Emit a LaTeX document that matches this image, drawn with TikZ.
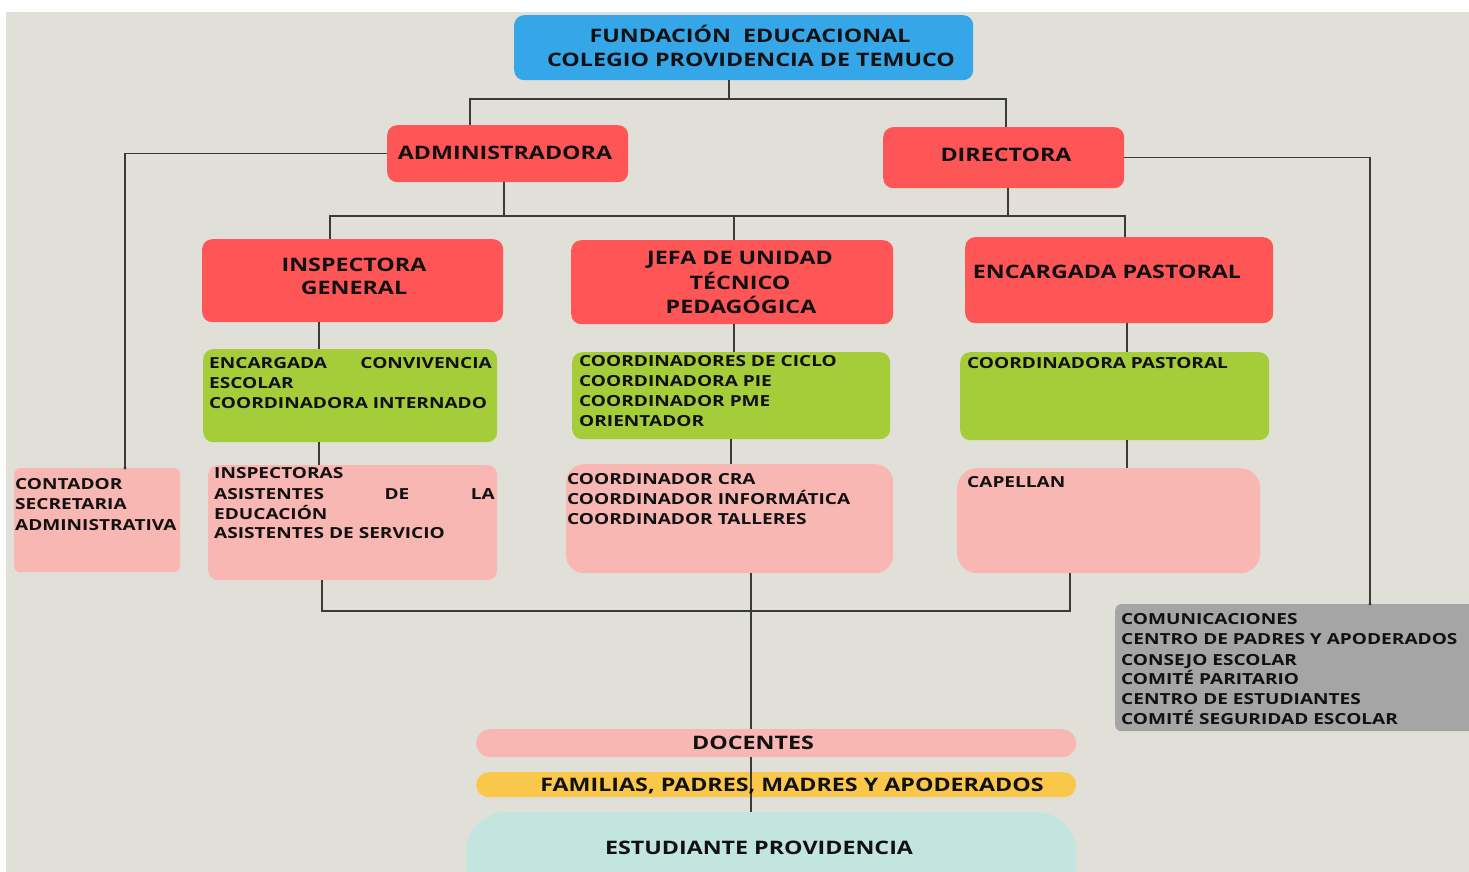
\documentclass[tikz,border=0pt]{standalone}
\usepackage{fontspec}
\setmainfont{Open Sans}[FakeStretch=1.25]
\definecolor{bgc}{HTML}{E1E0D8}
\definecolor{blu}{HTML}{35A7E9}
\definecolor{rd}{HTML}{FE5657}
\definecolor{grn}{HTML}{A5CC39}
\definecolor{pnk}{HTML}{F9B7B3}
\definecolor{gry}{HTML}{A5A5A5}
\definecolor{yel}{HTML}{F9C84A}
\definecolor{tea}{HTML}{C2E5DF}
\definecolor{lnc}{HTML}{3A3A3A}
\definecolor{txc}{HTML}{111111}
\tikzset{
  orgbox/.style={draw=none, inner sep=0pt, anchor=north west, rounded corners=#1},
  orgbox/.default=10pt,
  hd/.style={font=\bfseries\fontsize{18.6}{22}\selectfont, inner sep=0pt, text=txc, anchor=base},
  bd/.style={font=\bfseries\fontsize{15.25}{18}\selectfont, inner sep=0pt, text=txc, anchor=base west},
  conn/.style={draw=lnc, line width=1.1pt},
  enddot/.style={fill=lnc, draw=none}
}
\newcommand\tl[4]{\node[bd] (#1) at (#2,#3) {#4};}
\newcommand\hl[4]{\node[hd] (#1) at (#2,#3) {#4};}
\begin{document}
\begin{tikzpicture}[x=1pt,y=-1pt]
\useasboundingbox (0,0) rectangle (1469,872);
\fill[white] (0,0) rectangle (1469,872);
\fill[bgc] (6,12) rectangle (1469,872);
% boxes
\node[orgbox, fill=blu, minimum width=459pt, minimum height=65pt] (top) at (514,15) {};
\node[orgbox, fill=rd, minimum width=241pt, minimum height=57pt] (admin) at (387,125) {};
\node[orgbox, fill=rd, minimum width=241pt, minimum height=61pt] (dir) at (883,127) {};
\node[orgbox, fill=rd, minimum width=301pt, minimum height=83pt] (insp) at (202,239) {};
\node[orgbox, fill=rd, minimum width=322pt, minimum height=84pt] (jefa) at (571,240) {};
\node[orgbox, fill=rd, minimum width=308pt, minimum height=86pt] (past) at (965,237) {};
\node[orgbox, fill=grn, minimum width=294pt, minimum height=93pt] (g1) at (203,349) {};
\node[orgbox, fill=grn, minimum width=318pt, minimum height=87pt] (g2) at (572,352) {};
\node[orgbox, fill=grn, minimum width=309pt, minimum height=88pt] (g3) at (960,352) {};
\node[orgbox=6pt, fill=pnk, minimum width=166pt, minimum height=104pt] (cont) at (14,468) {};
\node[orgbox, fill=pnk, minimum width=289pt, minimum height=115pt] (p2) at (208,465) {};
\node[orgbox=18pt, fill=pnk, minimum width=327pt, minimum height=109pt] (p3) at (566,464) {};
\node[orgbox=20pt, fill=pnk, minimum width=303pt, minimum height=105pt] (cap) at (957,468) {};
\node[orgbox=6pt, fill=gry, minimum width=370pt, minimum height=127pt] (gray) at (1115,604) {};
\node[orgbox=14pt, fill=pnk, minimum width=600pt, minimum height=28pt] (doc) at (476,729) {};
\node[orgbox=12.5pt, fill=yel, minimum width=600pt, minimum height=25pt] (fam) at (476,772) {};
\node[orgbox=40pt, fill=tea, minimum width=610pt, minimum height=120pt] (est) at (466,812) {};
% helper coordinates
\coordinate (b1) at (729,99);
\coordinate (b2) at (504,216);
\coordinate (b3) at (751,611);
\coordinate (x470) at (470,0);
\coordinate (x125) at (125,0);
\coordinate (x330) at (330,0);
\coordinate (x504) at (504,0);
\coordinate (x733) at (734,0);
\coordinate (x1006) at (1006,0);
\coordinate (x1008) at (1008,0);
\coordinate (x1125) at (1125,0);
\coordinate (x319) at (319,0);
\coordinate (x731) at (731,0);
\coordinate (x1127) at (1127,0);
\coordinate (x1370) at (1370,0);
\coordinate (x322) at (322,0);
\coordinate (x1070) at (1070,0);
\coordinate (x751) at (751,0);
% connectors
\draw[conn] (top.south -| b1) -- (b1);
\draw[conn] (admin.north -| x470) |- (b1) -| (dir.north -| x1006);
\draw[conn] (admin.west) -| (cont.north -| x125);
\fill[enddot] (cont.north -| x125) circle (1.6pt);
\draw[conn] (admin.south -| x504) -- (x504 |- b2);
\draw[conn] (dir.south -| x1008) -- (x1008 |- b2);
\draw[conn] (insp.north -| x330) -- (x330 |- b2) -- (x1125 |- b2) -- (past.north -| x1125);
\draw[conn] (jefa.north -| x733) -- (x733 |- b2);
\draw[conn] (insp.south -| x319) -- (g1.north -| x319);
\draw[conn] (g1.south -| x319) -- (p2.north -| x319);
\draw[conn] (jefa.south -| x733) -- (g2.north -| x733);
\draw[conn] (g2.south -| x731) -- (p3.north -| x731);
\draw[conn] (past.south -| x1127) -- (g3.north -| x1127);
\draw[conn] (g3.south -| x1127) -- (cap.north -| x1127);
\draw[conn] (dir.east) -| (gray.north -| x1370);
\fill[enddot] (gray.north -| x1370) circle (1.6pt);
\draw[conn] (p2.south -| x322) |- (x1070 |- b3) -- (cap.south -| x1070);
\draw[conn] (p3.south -| x751) -- (doc.north -| x751);
\draw[conn] (doc.south -| x751) -- (est.north -| x751);
% headings
\hl{t1}{750}{42.4}{FUNDACIÓN~ EDUCACIONAL}
\hl{t2}{751}{66.4}{COLEGIO PROVIDENCIA DE TEMUCO}
\hl{adminT}{505}{159.4}{ADMINISTRADORA}
\hl{dirT}{1006}{161.4}{DIRECTORA}
\hl{inspT1}{354}{271.4}{INSPECTORA}
\hl{inspT2}{354}{294.4}{GENERAL}
\hl{jefaT1}{740}{264.4}{JEFA DE UNIDAD}
\hl{jefaT2}{740}{289.4}{TÉCNICO}
\hl{jefaT3}{741}{313.4}{PEDAGÓGICA}
\hl{pastT}{1107}{278.4}{ENCARGADA PASTORAL}
\hl{docT}{753}{749.4}{DOCENTES}
\hl{famT}{792}{791.4}{FAMILIAS, PADRES, MADRES Y APODERADOS}
\hl{estT}{759}{854.4}{ESTUDIANTE PROVIDENCIA}
% body
\tl{g1a}{209}{368.4}{ENCARGADA}
\node[bd, anchor=base east] (g1b) at (492,368.4) {CONVIVENCIA};
\tl{g1c}{209}{388.4}{ESCOLAR}
\tl{g1d}{209}{408.4}{COORDINADORA INTERNADO}
\tl{g2a}{579}{366.4}{COORDINADORES DE CICLO}
\tl{g2b}{579}{386.4}{COORDINADORA PIE}
\tl{g2c}{579}{406.4}{COORDINADOR PME}
\tl{g2d}{579}{426.4}{ORIENTADOR}
\tl{g3a}{967}{368.4}{COORDINADORA PASTORAL}
\tl{ca}{15}{489.4}{CONTADOR}
\tl{cb}{15}{509.4}{SECRETARIA}
\tl{cc}{15}{530.4}{ADMINISTRATIVA}
\tl{p2a}{214}{478.4}{INSPECTORAS}
\tl{p2b}{214}{499.4}{ASISTENTES}
\node[bd, anchor=base] (p2c) at (397,499.4) {DE};
\node[bd, anchor=base east] (p2d) at (495,499.4) {LA};
\tl{p2e}{214}{519.4}{EDUCACIÓN}
\tl{p2f}{214}{538.4}{ASISTENTES DE SERVICIO}
\tl{p3a}{567}{484.4}{COORDINADOR CRA}
\tl{p3b}{567}{504.4}{COORDINADOR INFORMÁTICA}
\tl{p3c}{567}{524.4}{COORDINADOR TALLERES}
\tl{capa}{967}{487.4}{CAPELLAN}
\tl{gra}{1121}{624.4}{COMUNICACIONES}
\tl{grb}{1121}{644.4}{CENTRO DE PADRES Y APODERADOS}
\tl{grc}{1121}{665.4}{CONSEJO ESCOLAR}
\tl{grd}{1121}{684.4}{COMITÉ PARITARIO}
\tl{gre}{1121}{704.4}{CENTRO DE ESTUDIANTES}
\tl{grf}{1121}{724.4}{COMITÉ SEGURIDAD ESCOLAR}
\end{tikzpicture}
\end{document}
